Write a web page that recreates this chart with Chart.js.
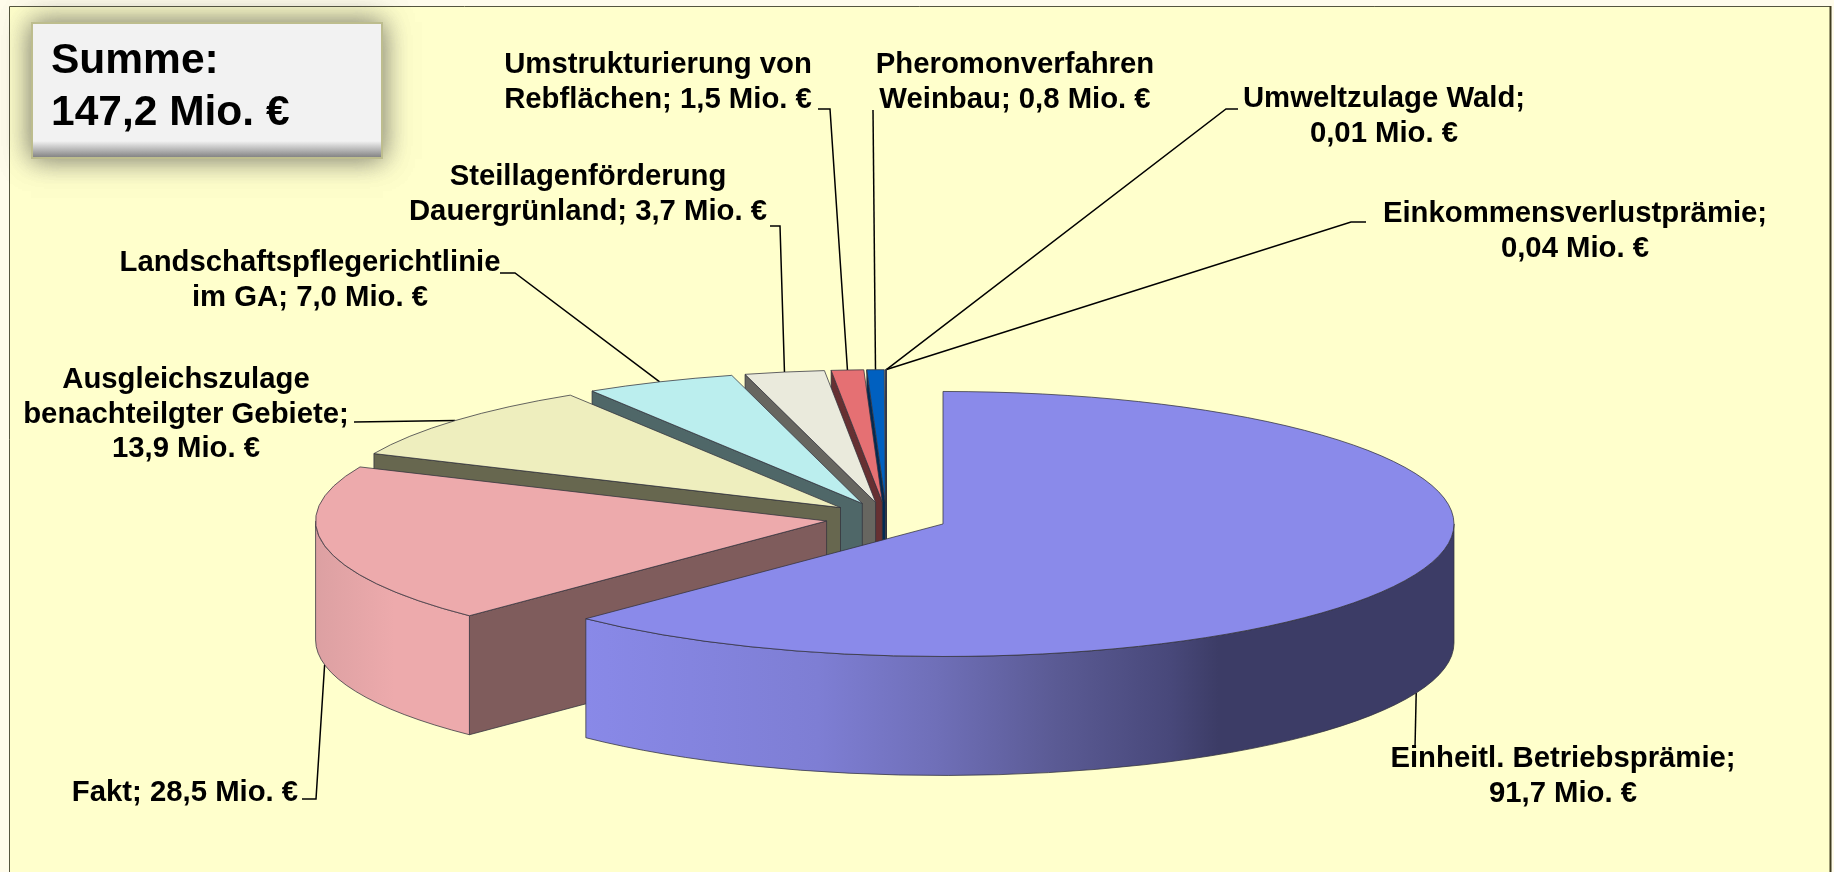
<!DOCTYPE html>
<html lang="de"><head><meta charset="utf-8">
<script src="https://cdn.jsdelivr.net/npm/chart.js@4/dist/chart.umd.min.js"></script>
<style>html,body{margin:0;padding:0;background:#FFFCEB;overflow:hidden}canvas{display:block}</style>
</head><body><canvas id="c" width="1834" height="872"></canvas>
<script>
const categories = ["Einheitl. Betriebsprämie","Fakt","Ausgleichszulage benachteilgter Gebiete","Landschaftspflegerichtlinie im GA","Steillagenförderung Dauergrünland","Umstrukturierung von Rebflächen","Pheromonverfahren Weinbau","Einkommensverlustprämie","Umweltzulage Wald"];
const values = [91.7,28.5,13.9,7.0,3.7,1.5,0.8,0.04,0.01];
const topColors = ["#8A8AEA","#EDAAAC","#EEEEBE","#BBEEEE","#EAEADC","#E57073","#0060C0","#4A7EBB","#C0504D"];
const wallColors = ["#3C3C66","#7F5C5C","#67674F","#4F6768","#676660","#663032","#002A55","#203650","#532321"];
const labelLines = [["Einheitl. Betriebsprämie;","91,7 Mio. €"],["Fakt; 28,5 Mio. €"],["Ausgleichszulage","benachteilgter Gebiete;","13,9 Mio. €"],["Landschaftspflegerichtlinie","im GA; 7,0 Mio. €"],["Steillagenförderung","Dauergrünland; 3,7 Mio. €"],["Umstrukturierung von","Rebflächen; 1,5 Mio. €"],["Pheromonverfahren","Weinbau; 0,8 Mio. €"],["Einkommensverlustprämie;","0,04 Mio. €"],["Umweltzulage Wald;","0,01 Mio. €"]];
const summaryLines = ["Summe:","147,2 Mio. €"];
// label centre x / first-line middle y
const labelPos = [[1563,759],[185,793],[186,380],[310,263],[588,177],[658,65],[1015,65],[1575,214],[1384,99]];
// leader-line waypoints, from the slice outward
const leaderVia = [[[1415,748]],[[316,799],[302,799]],[[354,422]],[[515,273],[500,273]],[[780,226],[770,226]],[[830,109],[818,109]],[[873,110]],[[1351,222],[1366,222]],[[1226,109],[1238,109]]];
const RADIUS=511, SQUASH=0.2593, EXPLODE=61, DEPTH=119, LINE=34.5;

const TAU=Math.PI*2;
function geom(arc){
  const p=arc.getProps(['x','y','startAngle','endAngle','outerRadius'],true);
  const mid=(p.startAngle+p.endAngle)/2;
  const ax=p.x+Math.cos(mid)*EXPLODE, ay=p.y+Math.sin(mid)*EXPLODE*SQUASH;
  return {...p,mid,ax,ay,r:p.outerRadius,ry:p.outerRadius*SQUASH};
}
const pt=(g,a)=>[g.ax+Math.cos(a)*g.r, g.ay+Math.sin(a)*g.ry];
function wallGradient(ctx,i,g){
  const gr=ctx.createLinearGradient(g.x-RADIUS-EXPLODE,0,g.x+RADIUS+EXPLODE,0);
  if(i===0){
    [[0,"#8A8AEA"],[.236,"#8989E8"],[.44,"#7E7ED4"],[.544,"#6F6FB8"],[.645,"#5B5B95"],[.748,"#48487A"],[.79,wallColors[0]],[1,wallColors[0]]].forEach(s=>gr.addColorStop(s[0],s[1]));
  } else if(i===1){
    gr.addColorStop(0,"#DCA0A2");gr.addColorStop(.07,"#EDAAAC");gr.addColorStop(1,"#EDAAAC");
  } else {gr.addColorStop(0,wallColors[i]);gr.addColorStop(1,wallColors[i]);}
  return gr;
}
const EDGE="rgba(50,50,60,.75)";
function drawSlice(chart,arc,i){
  const ctx=chart.ctx,g=geom(arc);
  const s=g.startAngle,e=g.endAngle;
  ctx.save();
  ctx.lineWidth=1;ctx.strokeStyle=EDGE;ctx.lineJoin='round';
  // radial walls that face the viewer
  const wall=(a)=>{const [x,y]=pt(g,a);ctx.beginPath();ctx.moveTo(g.ax,g.ay);ctx.lineTo(x,y);ctx.lineTo(x,y+DEPTH);ctx.lineTo(g.ax,g.ay+DEPTH);ctx.closePath();ctx.fillStyle=wallColors[i];ctx.fill();ctx.stroke();};
  const sn=(s+Math.PI/2)%TAU, en=(e+Math.PI/2)%TAU; // clockwise from 12 o'clock
  if(sn>Math.PI&&sn<TAU) wall(s);
  if(en>0&&en<Math.PI) wall(e);
  // curved wall: the part of the rim in the front half
  const a0=Math.max(s,0), a1=Math.min(e,Math.PI);
  if(a1>a0){
    ctx.beginPath();
    ctx.ellipse(g.ax,g.ay,g.r,g.ry,0,a0,a1,false);
    ctx.ellipse(g.ax,g.ay+DEPTH,g.r,g.ry,0,a1,a0,true);
    ctx.closePath();ctx.fillStyle=wallGradient(ctx,i,g);ctx.fill();ctx.stroke();
  }
  // top face: the library's own arc element, squashed and pulled out along its mid angle
  ctx.save();
  ctx.translate(g.ax,g.ay);ctx.scale(1,SQUASH);ctx.translate(-g.x,-g.y);
  arc.draw(ctx);
  ctx.restore();
  ctx.beginPath();ctx.moveTo(g.ax,g.ay);ctx.ellipse(g.ax,g.ay,g.r,g.ry,0,s,e,false);ctx.closePath();ctx.stroke();
  ctx.restore();
}
const pie3d={id:'pie3d',
  beforeDraw(chart){
    const c=chart.ctx;c.save();
    c.fillStyle="#FFFCEB";c.fillRect(0,0,1834,872);
    c.fillStyle="#FFFFCC";c.fillRect(9,6,1821,866);
    c.strokeStyle="#55553F";c.lineWidth=1;c.beginPath();c.moveTo(9.5,872);c.lineTo(9.5,6.5);c.lineTo(1830,6.5);c.stroke();
    c.strokeStyle="#403C20";c.lineWidth=2;c.beginPath();c.moveTo(1830.5,6);c.lineTo(1830.5,872);c.stroke();
    c.restore();
  },
  beforeDatasetDraw(chart){
    const data=chart.getDatasetMeta(0).data;
    const ctx=chart.ctx;
    ctx.save();ctx.strokeStyle="#000";ctx.lineWidth=1.5;
    data.forEach((arc,i)=>{
      const g=geom(arc);let [x,y]=pt(g,g.mid);
      if(Math.sin(g.mid)>0||i===1) y+=DEPTH;
      ctx.beginPath();ctx.moveTo(x,y);leaderVia[i].forEach(p=>ctx.lineTo(p[0],p[1]));ctx.stroke();
    });
    ctx.restore();
    for(let i=data.length-1;i>=0;i--) drawSlice(chart,data[i],i);
    return false;
  },
  afterDraw(chart){
    const c=chart.ctx;c.save();
    // summary box with a soft grey halo
    c.save();c.shadowColor="rgba(90,90,85,.5)";c.shadowBlur=26;c.fillStyle="#F2F2F2";c.fillRect(31,22,352,137);c.fillRect(31,22,352,137);c.restore();
    const gb=c.createLinearGradient(0,141,0,158);gb.addColorStop(0,"#F2F2F2");gb.addColorStop(1,"#7E7E7E");
    c.fillStyle=gb;c.fillRect(32,141,350,17);
    c.strokeStyle="#BDBD8E";c.lineWidth=2;c.strokeRect(32,23,350,135);
    c.fillStyle="#000";c.textBaseline="alphabetic";c.textAlign="left";c.font="bold 42.5px 'Liberation Sans'";
    c.fillText(summaryLines[0],51,73);c.fillText(summaryLines[1],51,125);
    // data labels
    c.font="bold 29.3px 'Liberation Sans'";c.textAlign="center";c.textBaseline="middle";
    labelLines.forEach((ls,i)=>ls.forEach((t,k)=>c.fillText(t,labelPos[i][0],labelPos[i][1]+k*LINE)));
    c.restore();
  }
};
new Chart(document.getElementById('c'),{
  type:'pie',
  data:{labels:categories,datasets:[{data:values,backgroundColor:topColors,borderWidth:0,radius:RADIUS}]},
  options:{responsive:false,animation:false,devicePixelRatio:1,radius:RADIUS,
    layout:{padding:{top:164,right:61}},
    plugins:{legend:{display:false},tooltip:{enabled:false},title:{display:false}}},
  plugins:[pie3d]
});
</script></body></html>
